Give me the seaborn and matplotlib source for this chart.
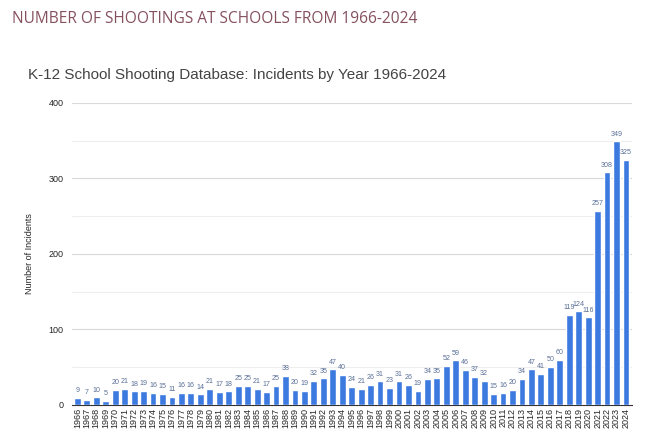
import matplotlib.pyplot as plt
import seaborn as sns
import pandas as pd

years = list(range(1966, 2025))
incidents = [9, 7, 10, 5, 20, 21, 18, 19, 16, 15, 11, 16, 16, 14, 21, 17, 18,
             25, 25, 21, 17, 25, 38, 20, 19, 32, 35, 47, 40, 24, 21, 26, 31,
             23, 31, 26, 19, 34, 35, 52, 59, 46, 37, 32, 15, 16, 20, 34, 47,
             41, 50, 60, 119, 124, 116, 257, 308, 349, 325]

df = pd.DataFrame({'year': [str(y) for y in years], 'count': incidents})

sns.set_style('white')
plt.rcParams['font.family'] = ['Liberation Sans', 'DejaVu Sans']

fig = plt.figure(figsize=(6.58, 4.42), dpi=100)
ax = fig.add_axes([0.109, 0.084, 0.851, 0.683])

sns.barplot(x='year', y='count', data=df, color='#3d7ae0', saturation=1,
            width=0.72, ax=ax, zorder=3)

ax.set_ylim(0, 400)
ax.set_yticks([0, 100, 200, 300, 400])
ax.set_yticks([50, 150, 250, 350], minor=True)
ax.grid(axis='y', which='major', color='#d9d9d9', linewidth=0.8, zorder=0)
ax.grid(axis='y', which='minor', color='#eeeeee', linewidth=0.8, zorder=0)
ax.set_xlim(-0.6, len(years) - 0.4)

for i, v in enumerate(incidents):
    ax.text(i, v + 5, str(v), ha='center', va='bottom', fontsize=5.1,
            color='#5a6f96', zorder=4)

ax.tick_params(axis='x', labelrotation=90, labelsize=6.5, length=0, pad=2)
ax.tick_params(axis='y', labelsize=6.5, length=0, pad=6)
for s in ['top', 'right', 'left']:
    ax.spines[s].set_visible(False)
ax.spines['bottom'].set_color('#333333')
ax.spines['bottom'].set_linewidth(0.8)

ax.set_xlabel('')
ax.set_ylabel('Number of Incidents', fontsize=6.5, labelpad=10)

fig.text(0.043, 0.83, 'K-12 School Shooting Database: Incidents by Year 1966-2024',
         fontsize=11, color='#444444', ha='left', va='center')
fig.text(0.018, 0.958, 'NUMBER OF SHOOTINGS AT SCHOOLS FROM 1966-2024',
         fontsize=11.2, color='#85505f', ha='left', va='center',
         family=['Open Sans', 'DejaVu Sans'])

plt.savefig('out.png', dpi=100)
